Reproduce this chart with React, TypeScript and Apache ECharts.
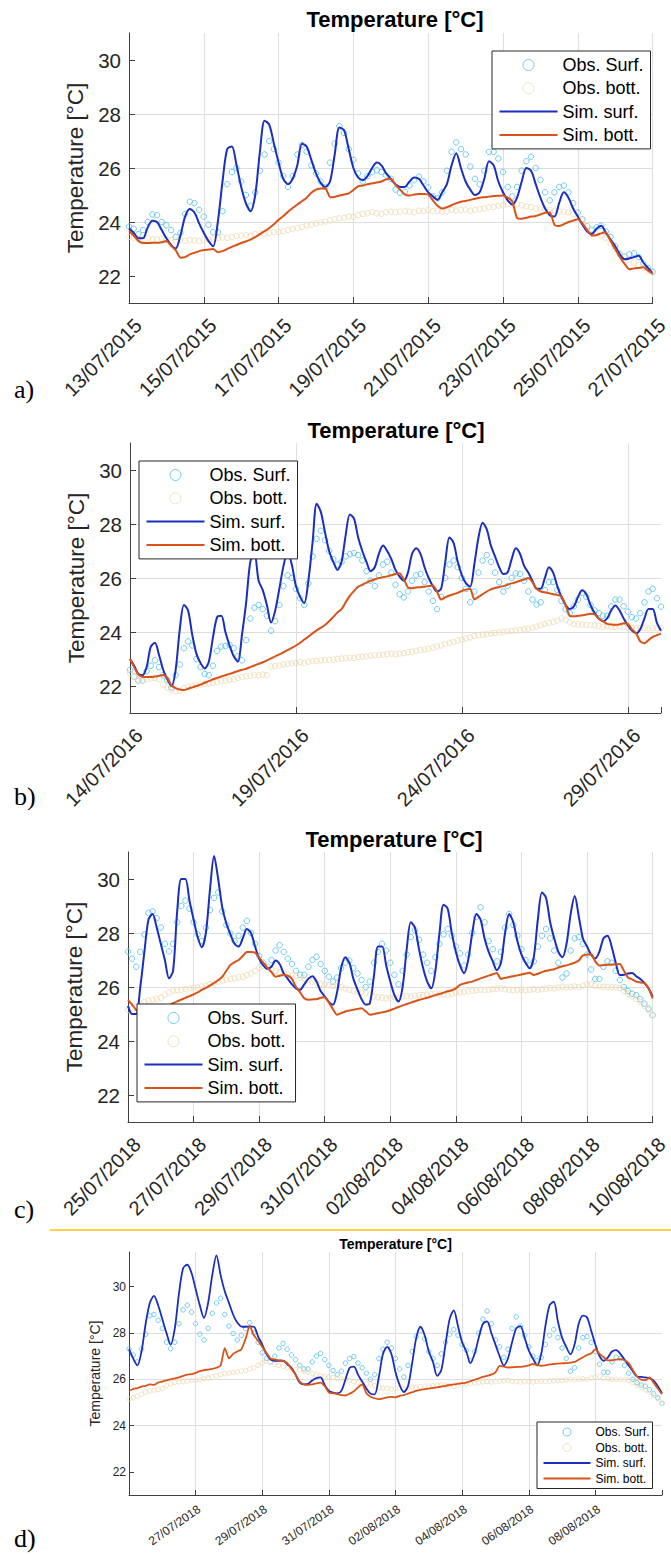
import React, { useEffect, useRef } from 'react';
import * as echarts from 'echarts';

// ---------------- data (3-hourly samples) ----------------
const STEP_DAYS = 0.125;
const NAMES = ['Obs. Surf.', 'Obs. bott.', 'Sim. surf.', 'Sim. bott.'];
const yTicks = [22, 24, 26, 28, 30];

const xLabelsA = ['13/07/2015', '15/07/2015', '17/07/2015', '19/07/2015', '21/07/2015', '23/07/2015', '25/07/2015', '27/07/2015'];
const xLabelsB = ['14/07/2016', '19/07/2016', '24/07/2016', '29/07/2016'];
const xLabelsC = ['25/07/2018', '27/07/2018', '29/07/2018', '31/07/2018', '02/08/2018', '04/08/2018', '06/08/2018', '08/08/2018', '10/08/2018'];
const xLabelsD = ['', '27/07/2018', '29/07/2018', '31/07/2018', '02/08/2018', '04/08/2018', '06/08/2018', '08/08/2018', ''];

// Panel a: 13/07/2015 - 27/07/2015
const obsSurfA = [
  23.83, 23.75, 23.55, 23.7, 24.0, 24.28, 24.25, 24.0,
  23.88, 23.7, 23.45, 23.6, 24.3, 24.75, 24.7, 24.45,
  24.2, 23.9, 23.62, 23.62, 24.4, 25.4, 25.85, 26.0,
  25.5, 25.0, 24.6, 25.1, 25.9, 26.5, 27.0, 26.7,
  26.2, 25.7, 25.3, 25.7, 26.5, 26.85, 26.6, 26.1,
  25.8, 25.5, 25.3, 26.2, 26.9, 27.55, 27.3, 26.7,
  26.3, 25.8, 25.5, 25.7, 25.85, 25.92, 25.85, 25.72,
  25.6, 25.2, 25.08, 25.12, 25.35, 25.55, 25.68, 25.5,
  25.28, 24.95, 24.88, 25.1, 25.9, 26.6, 26.95, 26.7,
  26.5, 26.05, 25.6, 25.4, 25.9, 26.6, 26.6, 26.35,
  25.85, 25.3, 24.95, 25.3, 25.9, 26.25, 26.42, 26.0,
  25.56, 25.1, 24.8, 25.1, 25.3, 25.35, 25.1, 24.7,
  24.35, 24.1, 23.85, 23.72, 23.8, 23.86, 23.65, 23.45,
  23.1, 22.8, 22.72, 22.8, 22.84, 22.7, 22.47, 22.3,
  22.16,
];
const obsBottA = [
  23.45, 23.42, 23.4, 23.38, 23.4, 23.36, 23.35, 23.38,
  23.35, 23.33, 23.32, 23.35, 23.3, 23.33, 23.32, 23.3,
  23.32, 23.35, 23.38, 23.4, 23.43, 23.42, 23.45, 23.48,
  23.5, 23.52, 23.5, 23.55, 23.58, 23.57, 23.6, 23.62,
  23.63, 23.66, 23.7, 23.74, 23.78, 23.82, 23.88, 23.9,
  23.95, 23.98, 24.02, 24.06, 24.1, 24.14, 24.16, 24.2,
  24.2, 24.25, 24.3, 24.33, 24.36, 24.32, 24.3, 24.36,
  24.38, 24.36, 24.38, 24.4, 24.38, 24.36, 24.42, 24.4,
  24.44, 24.4, 24.42, 24.38, 24.4, 24.45, 24.42, 24.44,
  24.46, 24.42, 24.45, 24.48, 24.5, 24.55, 24.56, 24.6,
  24.62, 24.66, 24.7, 24.65, 24.62, 24.58, 24.55, 24.5,
  24.52, 24.48, 24.45, 24.42, 24.4, 24.38, 24.36, 24.3,
  24.2, 24.05, 23.85, 23.65, 23.55, 23.5, 23.4, 23.2,
  23.0, 22.85, 22.7, 22.6, 22.5, 22.4, 22.3, 22.2,
  22.12,
];
const simSurfA = [
  23.77, 23.6, 23.4, 23.4, 23.8, 24.05, 24.0, 23.7,
  23.4, 23.15, 23.02, 23.5, 24.2, 24.48, 24.35, 23.95,
  23.6, 23.3, 23.1, 24.0, 25.5, 26.7, 26.8, 26.1,
  25.3, 24.7, 24.4, 25.0, 26.6, 27.75, 27.6, 26.9,
  26.2, 25.6, 25.4, 25.6, 26.1, 26.9, 26.8, 26.3,
  25.8, 25.45, 25.3, 25.5, 26.5, 27.5, 27.4, 26.7,
  26.0, 25.65, 25.55, 25.7, 26.0, 26.2, 26.1, 25.8,
  25.6, 25.4, 25.3, 25.3, 25.5, 25.65, 25.6, 25.35,
  25.1, 24.95, 24.82, 25.1, 25.4, 26.1, 26.55, 26.0,
  25.5, 25.2, 25.0, 25.1, 25.6, 26.25, 26.1, 25.5,
  25.1, 24.8, 24.65, 24.9, 25.5, 26.0, 25.9, 25.4,
  24.9, 24.5, 24.25, 24.2, 24.7, 25.1, 24.9, 24.5,
  24.2, 23.9, 23.65, 23.56, 23.75, 23.86, 23.6, 23.35,
  23.1, 22.8, 22.62, 22.65, 22.7, 22.75, 22.5, 22.3,
  22.1,
];
const simBottA = [
  23.67, 23.5, 23.3, 23.22, 23.22, 23.23, 23.23, 23.25,
  23.3, 23.12, 22.95, 22.68, 22.7, 22.8, 22.86, 22.92,
  22.96, 22.98, 23.0, 22.88, 22.92, 23.0, 23.08, 23.15,
  23.22, 23.28, 23.35, 23.44, 23.55, 23.66, 23.78, 23.92,
  24.08, 24.22, 24.38, 24.52, 24.65, 24.77, 24.9, 25.08,
  25.2, 25.24, 25.25, 24.92, 24.93, 24.98, 25.02, 25.06,
  25.18, 25.32, 25.35, 25.4, 25.43, 25.46, 25.5, 25.58,
  25.6, 25.38, 25.2, 25.02, 24.98, 25.02, 25.04, 25.04,
  25.02, 24.8, 24.6, 24.5, 24.55, 24.62, 24.7, 24.75,
  24.78, 24.82, 24.86, 24.9, 24.92, 24.94, 24.96, 24.97,
  24.98, 24.9, 24.75, 24.15, 24.12, 24.16, 24.2, 24.22,
  24.28, 24.34, 24.35, 23.9, 23.85, 23.92, 24.0, 24.05,
  24.1, 23.95, 23.7, 23.5, 23.52, 23.58, 23.62, 23.3,
  23.0, 22.7, 22.45, 22.25, 22.28, 22.3, 22.32, 22.2,
  22.1,
];

// Panel b: 14/07/2016 - 30/07/2016
const obsSurfB = [
  22.6, 22.35, 22.2, 22.2, 22.55, 22.75, 22.95, 22.7,
  22.4, 22.22, 21.95, 22.4, 22.8, 23.4, 23.65, 23.5,
  23.0, 22.7, 22.45, 22.4, 22.75, 23.3, 23.46, 23.48,
  23.52, 23.4, 23.1, 22.95, 23.7, 24.5, 24.9, 25.0,
  24.85, 24.6, 24.05, 24.4, 25.0, 25.7, 26.1, 26.0,
  25.6, 25.25, 25.0, 25.8, 26.8, 27.45, 27.75, 27.4,
  27.0, 26.7, 26.5, 26.6, 26.8, 26.88, 26.92, 26.85,
  26.65, 26.25, 25.9, 25.7, 26.1, 26.5, 26.6, 26.2,
  25.75, 25.4, 25.28, 25.5, 25.9, 26.1, 26.15, 25.85,
  25.5, 25.15, 24.85, 25.3, 26.0, 26.5, 26.65, 26.4,
  26.0, 25.6, 25.1, 25.5, 26.2, 26.65, 26.85, 26.6,
  26.2, 25.85, 25.5, 25.7, 26.0, 26.17, 26.15, 25.9,
  25.5, 25.2, 25.02, 25.1, 25.55, 25.85, 25.85, 25.55,
  25.15, 24.85, 24.7, 24.95, 25.2, 25.45, 25.3, 25.0,
  24.8, 24.7, 24.6, 24.6, 24.95, 25.2, 25.2, 24.95,
  24.75, 24.55, 24.5, 24.7, 25.1, 25.5, 25.6, 25.25,
  24.94,
];
const obsBottB = [
  22.47, 22.35, 22.25, 22.2, 22.25, 22.28, 22.3, 22.25,
  22.05, 21.95, 21.85, 21.8, 21.82, 21.92, 21.98, 22.0,
  22.02, 22.05, 22.08, 22.1, 22.12, 22.15, 22.18, 22.2,
  22.23, 22.25, 22.3, 22.33, 22.36, 22.38, 22.4, 22.4,
  22.42, 22.4, 22.72, 22.74, 22.76, 22.8, 22.82, 22.84,
  22.86, 22.88, 22.85, 22.9, 22.92, 22.93, 22.95, 22.96,
  22.97, 22.98, 23.0, 23.02, 23.03, 23.05, 23.04, 23.07,
  23.09, 23.1, 23.12, 23.14, 23.15, 23.16, 23.18, 23.2,
  23.18, 23.2, 23.22, 23.25, 23.27, 23.3, 23.33, 23.35,
  23.38, 23.42, 23.46, 23.5, 23.55, 23.6, 23.64, 23.68,
  23.72, 23.76, 23.8, 23.85, 23.88, 23.9, 23.92, 23.95,
  23.96, 23.98, 24.0, 24.02, 24.04, 24.06, 24.07, 24.1,
  24.12, 24.16, 24.2, 24.25, 24.3, 24.34, 24.38, 24.42,
  24.5, 24.45, 24.35, 24.3, 24.28, 24.27, 24.26, 24.25,
  24.24, 24.22, 24.2, 24.22, 24.2, 24.18, 24.2, 24.18,
  24.16, 24.15, 24.14, 24.15, 24.14, 24.12, 24.14, 24.14,
  24.14,
];
const simSurfB = [
  23.0, 22.75, 22.45, 22.4, 22.7, 23.45, 23.6, 23.15,
  22.6, 22.25, 22.0, 22.6, 24.1, 25.0, 24.8, 23.9,
  23.2, 22.85, 22.65, 22.9, 23.8, 24.55, 24.6, 24.0,
  23.5, 23.1, 22.9, 23.9, 25.1, 26.6, 26.9, 25.9,
  25.55, 25.0, 24.35, 24.8, 25.6, 26.45, 26.95, 26.5,
  25.7, 25.3, 25.07, 25.9, 27.3, 28.75, 28.45, 27.7,
  27.0, 26.6, 26.3, 26.6, 27.6, 28.35, 28.2, 27.5,
  27.0, 26.6, 26.25, 26.4, 26.9, 27.2, 27.0, 26.7,
  26.3, 26.05, 25.9, 26.2, 26.9, 27.1, 26.9, 26.4,
  26.0, 25.7, 25.5, 25.6, 26.6, 27.5, 27.3, 26.6,
  26.1, 25.8, 25.68, 26.5, 27.5, 28.05, 27.8, 27.2,
  26.8, 26.4, 26.15, 26.2, 26.7, 27.1, 26.9, 26.45,
  26.2, 25.9, 25.6, 25.6, 26.0, 26.4, 26.2, 25.7,
  25.3, 25.0, 24.85, 24.95, 25.3, 25.55, 25.4, 25.0,
  24.7, 24.5, 24.4, 24.5, 24.8, 24.98, 24.8, 24.5,
  24.25, 24.05, 23.95, 24.1, 24.5, 24.85, 24.85, 24.35,
  24.05,
];
const simBottB = [
  23.0, 22.7, 22.42, 22.34, 22.33, 22.33, 22.35, 22.38,
  22.41, 22.3, 22.02, 21.92, 21.87, 21.85, 21.9, 21.95,
  22.0, 22.05, 22.12, 22.18, 22.25, 22.3, 22.35, 22.4,
  22.45, 22.5, 22.55, 22.6, 22.64, 22.7, 22.76, 22.82,
  22.88, 22.95, 23.02, 23.1, 23.17, 23.25, 23.33, 23.41,
  23.5, 23.6, 23.72, 23.83, 23.95, 24.06, 24.16, 24.26,
  24.4, 24.56, 24.72, 24.85, 25.1, 25.35, 25.52, 25.68,
  25.75, 25.83, 25.9, 25.95, 26.0, 26.03, 26.06, 26.1,
  26.15, 26.18, 25.95, 25.65, 25.62, 25.65, 25.66, 25.68,
  25.7, 25.72, 25.5, 25.2, 25.28, 25.35, 25.4, 25.45,
  25.52, 25.57, 25.6, 25.2, 25.3, 25.4, 25.5, 25.58,
  25.63, 25.67, 25.7, 25.75, 25.8, 25.84, 25.9, 25.94,
  26.0, 25.85, 25.6, 25.5, 25.47, 25.44, 25.4, 25.37,
  25.33, 25.0, 24.6, 24.58, 24.6, 24.62, 24.65, 24.68,
  24.65, 24.5, 24.4, 24.3, 24.28, 24.27, 24.28, 24.32,
  24.3, 24.1, 23.95, 23.65, 23.58, 23.7, 23.82, 23.88,
  23.93,
];

// Panels c and d: 25/07/2018 - 10/08/2018 (same observations)
const obsSurfC = [
  27.31, 27.05, 26.75, 27.3, 27.95, 28.75, 28.8, 28.55,
  28.2, 27.6, 27.32, 27.6, 28.4, 29.0, 29.2, 28.9,
  28.4, 27.95, 27.7, 28.2, 28.85, 29.3, 29.5, 28.8,
  28.3, 27.98, 27.7, 27.9, 28.2, 28.45, 28.0, 27.6,
  27.15, 26.9, 26.75, 27.0, 27.35, 27.55, 27.3, 27.05,
  26.85, 26.6, 26.45, 26.45, 26.75, 27.0, 27.12, 26.85,
  26.6, 26.38, 26.2, 26.35, 26.7, 26.9, 26.98, 26.7,
  26.5, 26.26, 26.0, 26.2, 26.9, 27.3, 27.6, 27.35,
  26.9, 26.45, 26.1, 26.6, 27.2, 27.85, 28.1, 27.75,
  27.2, 26.9, 26.6, 27.1, 27.6, 27.95, 28.15, 27.9,
  27.5, 27.25, 26.8, 27.2, 28.0, 28.6, 28.95, 28.4,
  27.7, 27.4, 26.95, 27.3, 28.2, 28.7, 28.3, 27.9,
  27.4, 27.0, 26.8, 26.95, 27.5, 27.9, 28.15, 27.8,
  27.35, 26.9, 26.35, 26.5, 27.35, 27.8, 27.85, 27.6,
  27.2, 26.65, 26.3, 26.3, 26.75, 26.95, 26.9, 26.6,
  26.26, 26.0, 25.85, 25.75, 25.7, 25.55, 25.38, 25.2,
  24.96,
];
const obsBottC = [
  25.15, 25.2, 25.27, 25.35, 25.45, 25.5, 25.53, 25.56,
  25.6, 25.72, 25.8, 25.87, 25.88, 25.9, 25.92, 25.95,
  25.96, 25.98, 26.02, 26.05, 26.1, 26.15, 26.2, 26.24,
  26.27, 26.3, 26.32, 26.36, 26.38, 26.45, 26.5, 26.6,
  26.7, 26.78, 26.75, 26.65, 26.6, 26.56, 26.5, 26.45,
  26.42, 26.4, 26.35, 26.3, 26.25, 26.2, 26.16, 26.12,
  26.1, 26.07, 26.04, 26.02, 26.0, 25.95, 25.9, 25.86,
  25.83, 25.8, 25.78, 25.72, 25.65, 25.62, 25.6, 25.58,
  25.6, 25.62, 25.6, 25.64, 25.66, 25.65, 25.68, 25.7,
  25.7, 25.72, 25.74, 25.76, 25.74, 25.72, 25.7, 25.75,
  25.78, 25.8, 25.82, 25.84, 25.86, 25.88, 25.9, 25.88,
  25.9, 25.92, 25.94, 25.95, 25.92, 25.9, 25.88, 25.9,
  25.9, 25.88, 25.9, 25.92, 25.9, 25.92, 25.94, 25.96,
  25.95, 25.98, 26.0, 25.98, 26.0, 26.02, 26.0, 26.05,
  26.1, 26.12, 26.05, 26.02, 26.0, 26.0, 25.99, 25.98,
  25.95, 25.85, 25.75, 25.65, 25.55, 25.45, 25.3, 25.15,
  24.96,
];
const simSurfC = [
  25.3, 25.0, 25.0, 26.0, 27.3, 28.5, 28.7, 28.2,
  27.6, 27.0, 26.32, 26.6, 28.8, 30.0, 30.0, 29.2,
  28.5, 27.85, 27.47, 28.0, 29.6, 30.85, 30.0, 28.95,
  28.35, 27.95, 27.6, 27.5, 27.8, 28.15, 28.0, 27.5,
  27.05, 26.8, 26.68, 26.75, 26.98, 26.85, 26.5, 26.3,
  26.1, 25.95, 25.9, 26.1, 26.3, 26.4, 26.2, 25.85,
  25.65, 25.45, 25.34, 25.8, 26.7, 27.1, 26.9, 26.3,
  25.9, 25.55, 25.35, 25.4, 26.4, 27.5, 27.5, 26.8,
  26.2, 25.7, 25.46, 26.0, 27.4, 28.4, 28.2, 27.4,
  26.7, 26.2, 25.95, 26.6, 28.0, 29.05, 28.9, 28.0,
  27.3, 26.8, 26.51, 27.0, 28.0, 28.7, 28.5, 27.8,
  27.3, 26.95, 26.62, 26.9, 28.0, 28.7, 28.4, 27.7,
  27.2, 26.9, 26.69, 27.1, 28.5, 29.5, 29.3, 28.4,
  27.8, 27.3, 27.1, 27.6, 28.7, 29.37, 28.6, 27.8,
  27.5, 27.2, 27.06, 27.3, 27.8, 27.9, 27.5, 26.9,
  26.44, 26.45, 26.5, 26.52, 26.4, 26.3, 26.15, 25.95,
  25.64,
];
const simBottC = [
  25.52, 25.35, 25.15, 25.05, 25.0, 25.02, 25.06, 25.1,
  25.15, 25.22, 25.3, 25.4, 25.47, 25.53, 25.6, 25.66,
  25.73, 25.8, 25.89, 25.97, 26.05, 26.15, 26.25, 26.38,
  26.6, 26.82, 26.92, 27.0, 27.15, 27.3, 27.3, 27.27,
  27.1, 26.9, 26.72, 26.55, 26.38, 26.42, 26.44, 26.42,
  26.3, 26.0, 25.8, 25.58, 25.53, 25.54, 25.55, 25.6,
  25.62, 25.42, 25.18, 24.97, 25.03, 25.09, 25.13, 25.16,
  25.19, 25.21, 25.1, 24.97, 25.0, 25.03, 25.06, 25.09,
  25.14, 25.2, 25.26, 25.32, 25.37, 25.42, 25.47, 25.52,
  25.56, 25.6, 25.65, 25.7, 25.74, 25.79, 25.84, 25.88,
  25.95, 26.08, 26.13, 26.17, 26.2, 26.26, 26.32, 26.37,
  26.42, 26.47, 26.52, 26.3, 26.34, 26.37, 26.4, 26.43,
  26.46, 26.5, 26.53, 26.44, 26.49, 26.55, 26.6, 26.63,
  26.66, 26.72, 26.77, 26.8, 26.85, 26.9, 26.98, 27.17,
  27.2, 27.22, 26.95, 26.8, 26.81, 26.82, 26.83, 26.84,
  26.85, 26.6, 26.35, 26.28, 26.2, 26.17, 26.14, 25.95,
  25.58,
];
const simSurfD = [
  27.3, 26.9, 26.6, 27.2, 28.4, 29.3, 29.6, 29.2,
  28.6, 28.0, 27.5, 28.2, 29.7, 30.8, 30.95, 30.6,
  29.9, 29.2, 28.65, 29.3, 30.5, 31.35, 30.5, 29.8,
  29.3, 28.8, 28.45, 28.28, 28.27, 28.28, 28.27, 27.85,
  27.5, 27.1, 26.85, 26.8, 26.8, 26.8, 26.65, 26.5,
  26.2, 25.85, 25.78, 25.8, 25.95, 26.05, 26.08, 25.75,
  25.5, 25.42, 25.39, 25.5, 26.0, 26.5, 26.55, 26.2,
  25.9, 25.6, 25.38, 25.35, 26.1, 27.1, 27.4, 27.1,
  26.3, 25.75, 25.45, 25.7, 26.7, 27.8, 28.27, 27.9,
  27.2, 26.75, 26.15, 26.4, 27.5, 28.6, 28.98, 28.3,
  27.6, 27.2, 26.7, 27.1, 27.8, 28.4, 28.5, 28.0,
  27.5, 27.0, 26.6, 26.9, 27.6, 28.2, 28.3, 27.8,
  27.25, 26.9, 26.6, 27.1, 28.3, 29.2, 29.35, 28.5,
  27.8, 27.4, 27.08, 27.5, 28.4, 28.75, 28.67, 28.1,
  27.5, 27.0, 26.8, 26.95, 27.2, 27.26, 27.1, 26.85,
  26.6, 26.35, 26.12, 26.1, 26.08, 26.05, 25.94, 25.7,
  25.4,
];
const simBottD = [
  25.5, 25.58, 25.62, 25.68, 25.72, 25.78, 25.76, 25.86,
  25.9, 25.95, 26.0, 26.04, 26.08, 26.15, 26.2, 26.22,
  26.28, 26.35, 26.4, 26.42, 26.45, 26.5, 26.6, 27.35,
  26.9, 27.1, 27.2, 27.3, 27.75, 28.3, 27.9, 27.67,
  27.4, 27.15, 26.9, 26.85, 26.82, 26.8, 26.7, 26.45,
  26.2, 25.9, 25.78, 25.76, 25.78, 25.82, 25.86, 25.7,
  25.43, 25.4, 25.36, 25.32, 25.3, 25.38, 25.48, 25.65,
  25.78, 25.4, 25.25, 25.18, 25.14, 25.18, 25.22, 25.24,
  25.22, 25.28, 25.32, 25.38, 25.44, 25.5, 25.54, 25.57,
  25.6, 25.63, 25.65, 25.68, 25.72, 25.75, 25.78, 25.8,
  25.83, 25.86, 25.92, 25.98, 26.04, 26.1, 26.15, 26.2,
  26.3, 26.58, 26.55, 26.51, 26.52, 26.53, 26.54, 26.56,
  26.6, 26.66, 26.62, 26.58, 26.6, 26.64, 26.66, 26.68,
  26.69, 26.7, 26.72, 26.75, 26.85, 26.95, 27.05, 27.12,
  27.3, 27.1, 26.95, 26.82, 26.82, 26.85, 26.87, 26.82,
  26.7, 26.4, 26.12, 25.98, 25.96, 26.08, 25.85, 25.6,
  25.36,
];

// ---------------- styling ----------------
const FONT = 'Liberation Sans, Arial, Helvetica, sans-serif';
const C_OBS_SURF = '#4DBEEE';
const C_OBS_BOTT = '#EFD9B3';
const C_SIM_SURF = '#1A2EC0';
const C_SIM_BOTT = '#D95319';
const C_AXIS = '#404040';
const C_GRID = '#DEDEDE';
const C_TXT = '#262626';
const CLEAR = 'rgba(255,255,255,0)';

type Panel = {
  grid: { left: number; top: number; width: number; height: number };
  days: number;
  interval: number;
  labels: string[];
  ymax: number;
  series: number[][];
  legend: { left: number; top: number };
  small: boolean;
  title: { x: number; y: number };
  letter: { text: string; y: number };
  hideMaxSplit: boolean;
};

const panels: Panel[] = [
  {
    grid: { left: 129, top: 33, width: 531, height: 270 }, days: 14, interval: 2, labels: xLabelsA, ymax: 31,
    series: [obsSurfA, obsBottA, simSurfA, simBottA], legend: { left: 492, top: 51 }, small: false,
    title: { x: 395, y: 19.5 }, letter: { text: 'a)', y: 389 }, hideMaxSplit: false,
  },
  {
    grid: { left: 130, top: 443, width: 531, height: 270 }, days: 16, interval: 5, labels: xLabelsB, ymax: 31,
    series: [obsSurfB, obsBottB, simSurfB, simBottB], legend: { left: 139, top: 461 }, small: false,
    title: { x: 396, y: 430 }, letter: { text: 'b)', y: 796 }, hideMaxSplit: true,
  },
  {
    grid: { left: 128, top: 852, width: 531, height: 270 }, days: 16, interval: 2, labels: xLabelsC, ymax: 31,
    series: [obsSurfC, obsBottC, simSurfC, simBottC], legend: { left: 137, top: 1004 }, small: false,
    title: { x: 394, y: 839 }, letter: { text: 'c)', y: 1209 }, hideMaxSplit: false,
  },
  {
    grid: { left: 129, top: 1252, width: 533, height: 243 }, days: 16, interval: 2, labels: xLabelsD, ymax: 31.5,
    series: [obsSurfC, obsBottC, simSurfD, simBottD], legend: { left: 537, top: 1422 }, small: true,
    title: { x: 395.5, y: 1243.5 }, letter: { text: 'd)', y: 1538 }, hideMaxSplit: true,
  },
];

const toXY = (vals: number[]) => vals.map((v, i) => [i * STEP_DAYS, v]);

const makeFmt = (labels: string[], interval: number) => (v: number) => {
  const k = v / interval;
  const r = Math.round(k);
  if (Math.abs(k - r) > 1e-6) return '';
  return labels[r] ?? '';
};

function buildOption() {
  const grid: any[] = [];
  const xAxis: any[] = [];
  const yAxis: any[] = [];
  const series: any[] = [];
  const legend: any[] = [];
  const graphic: any[] = [];

  panels.forEach((p, i) => {
    const s = p.small;
    grid.push({ ...p.grid, containLabel: false });
    xAxis.push({
      type: 'value', gridIndex: i, min: 0, max: p.days, interval: p.interval,
      axisLine: { show: true, onZero: false, lineStyle: { color: C_AXIS, width: 1 } },
      axisTick: { show: true, inside: true, length: s ? 5 : 6, lineStyle: { color: C_AXIS, width: 1 } },
      splitLine: { show: true, showMinLine: false, showMaxLine: !p.hideMaxSplit, lineStyle: { color: C_GRID, width: 1 } },
      axisLabel: {
        formatter: makeFmt(p.labels, p.interval),
        rotate: s ? 35 : 45, align: 'right', verticalAlign: 'top',
        margin: s ? 8 : 14, padding: s ? [0, 0, 0, 0] : [0, -3, 0, 0],
        fontSize: s ? 12 : 20, color: C_TXT, fontFamily: FONT,
        showMinLabel: true, showMaxLabel: true,
      },
    });
    yAxis.push({
      type: 'value', gridIndex: i, min: 21, max: p.ymax, splitNumber: 5, minInterval: 2, maxInterval: 2,
      axisLine: { show: true, onZero: false, lineStyle: { color: C_AXIS, width: 1 } },
      axisTick: { show: true, inside: true, length: s ? 5 : 6, customValues: yTicks, lineStyle: { color: C_AXIS, width: 1 } },
      axisLabel: { customValues: yTicks, fontSize: s ? 12 : 20.5, margin: s ? 3 : 8, color: C_TXT, fontFamily: FONT },
      splitLine: { show: true, showMinLine: false, showMaxLine: false, lineStyle: { color: C_GRID, width: 1 } },
      name: 'Temperature [°C]', nameLocation: 'middle', nameGap: s ? 19 : 35,
      nameTextStyle: { fontSize: s ? 14 : 22.5, color: C_TXT, fontFamily: FONT },
    });
    const [os, ob, ss, sb] = p.series;
    const msize = s ? 4.5 : 5.5;
    series.push(
      {
        type: 'scatter', name: NAMES[0], xAxisIndex: i, yAxisIndex: i, data: toXY(os), symbol: 'circle', symbolSize: msize,
        itemStyle: { color: CLEAR, borderColor: C_OBS_SURF, borderWidth: 1 }, silent: true, z: 2,
      },
      {
        type: 'scatter', name: NAMES[1], xAxisIndex: i, yAxisIndex: i, data: toXY(ob), symbol: 'circle', symbolSize: msize,
        itemStyle: { color: CLEAR, borderColor: C_OBS_BOTT, borderWidth: 1 }, silent: true, z: 2,
      },
      {
        type: 'line', name: NAMES[2], xAxisIndex: i, yAxisIndex: i, data: toXY(ss), symbol: 'none', smooth: 0.3,
        lineStyle: { color: C_SIM_SURF, width: s ? 1.8 : 2 }, itemStyle: { color: C_SIM_SURF }, silent: true, z: 3,
      },
      {
        type: 'line', name: NAMES[3], xAxisIndex: i, yAxisIndex: i, data: toXY(sb), symbol: 'none', smooth: 0.2,
        lineStyle: { color: C_SIM_BOTT, width: s ? 1.8 : 2 }, itemStyle: { color: C_SIM_BOTT }, silent: true, z: 3,
      },
    );
    legend.push({
      left: p.legend.left, top: p.legend.top, orient: 'vertical', selectedMode: false,
      itemWidth: s ? 47 : 58, itemHeight: s ? 8 : 11, itemGap: s ? 2.5 : 3.3,
      padding: s ? [3.5, 3, 3.5, 5.6] : [4, 7, 4, 6.5],
      backgroundColor: '#ffffff', borderColor: '#262626', borderWidth: 1,
      textStyle: { fontSize: s ? 12 : 18, lineHeight: s ? 13 : 20, color: '#000', fontFamily: FONT },
      data: [
        { name: NAMES[0], icon: 'circle', itemStyle: { color: CLEAR, borderColor: C_OBS_SURF, borderWidth: 1 } },
        { name: NAMES[1], icon: 'circle', itemStyle: { color: CLEAR, borderColor: C_OBS_BOTT, borderWidth: 1 } },
        { name: NAMES[2], itemStyle: { color: CLEAR, borderColor: CLEAR, borderWidth: 0, opacity: 0 }, lineStyle: { color: C_SIM_SURF, width: s ? 1.8 : 2 } },
        { name: NAMES[3], itemStyle: { color: CLEAR, borderColor: CLEAR, borderWidth: 0, opacity: 0 }, lineStyle: { color: C_SIM_BOTT, width: s ? 1.8 : 2 } },
      ],
      z: 10,
    });
    graphic.push({
      type: 'text', x: p.title.x, y: p.title.y, silent: true,
      style: { text: 'Temperature [°C]', fontSize: s ? 14 : 22, fontWeight: 'bold', fontFamily: FONT, fill: '#000', align: 'center', verticalAlign: 'middle' },
    });
    graphic.push({
      type: 'text', x: 14, y: p.letter.y, silent: true,
      style: { text: p.letter.text, fontSize: 26, fontFamily: 'Liberation Serif, DejaVu Serif, serif', fill: '#000', align: 'left', verticalAlign: 'middle' },
    });
  });

  graphic.push({
    type: 'line', silent: true, shape: { x1: 50, y1: 1230, x2: 671, y2: 1230 },
    style: { stroke: '#FFC20E', lineWidth: 1.5 },
  });

  return { animation: false, backgroundColor: '#ffffff', grid, xAxis, yAxis, series, legend, graphic };
}

export default function App() {
  const ref = useRef<HTMLDivElement>(null);
  useEffect(() => {
    if (!ref.current) return;
    const chart = echarts.init(ref.current, undefined, { renderer: 'svg' });
    chart.setOption(buildOption() as any);
    return () => chart.dispose();
  }, []);
  return <div ref={ref} style={{ position: 'absolute', left: 0, top: 0, width: 671, height: 1555 }} />;
}
